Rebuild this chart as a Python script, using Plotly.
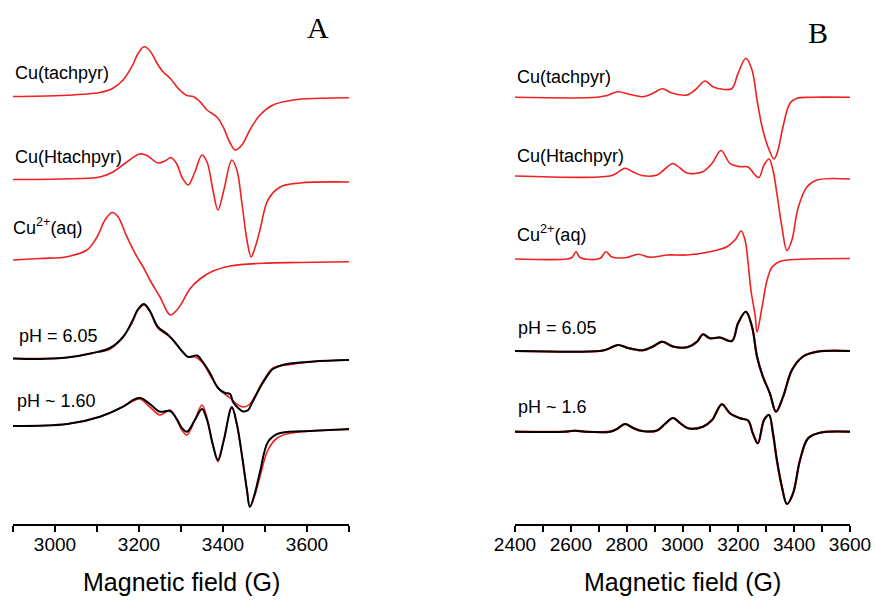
import plotly.graph_objects as go

# ---------------- Panel A (X-band, 2900-3700 G) ----------------
a_tach_field = [2900, 3012, 3107, 3138, 3162, 3183, 3198, 3212, 3226, 3243, 3257, 3274, 3290, 3302, 3314, 3329,
                3345, 3362, 3386, 3400, 3417, 3429, 3445, 3464, 3488, 3519, 3567, 3631, 3700]
a_tach_sig = [0, 1, 4, 8.2, 16.5, 29.8, 43.2, 49.8, 45.8, 33.2, 24.8, 18.2, 9.8, 4.5, 1, 0,
              -5.2, -13.5, -20.8, -30.2, -46.5, -53.5, -48.5, -33.5, -18.5, -8.5, -3.5, -1.8, -1.2]

a_htach_field = [2900, 3012, 3107, 3138, 3171, 3202, 3219, 3245, 3262, 3276, 3290, 3302, 3317, 3333, 3350, 3362,
                 3376, 3388, 3402, 3421, 3433, 3445, 3457, 3467, 3476, 3488, 3507, 3536, 3583, 3700]
a_htach_sig = [0, 0.5, 2.5, 7.5, 17.5, 25.5, 24, 16.5, 18.5, 22, 15.5, 2.5, -5.5, 7.5, 24.5, 17.5,
               -10.5, -30.5, -10.5, 19.5, 9.5, -23.5, -60.5, -77.5, -68.5, -50.5, -20.5, -7.5, -3.5, -2.5]

a_aq_field = [2900, 2965, 3029, 3076, 3100, 3119, 3136, 3150, 3171, 3195, 3210, 3226, 3250, 3274, 3288, 3302,
              3321, 3345, 3376, 3417, 3495, 3583, 3700]
a_aq_sig = [0, 1.5, 3.3, 10, 23, 40, 47.5, 43.3, 23.3, 3.3, -7, -20, -37, -55, -51, -43,
            -29, -19, -11, -6, -3.3, -2.5, -1.7]

a_ph6_fit_field = [2900, 3029, 3090, 3131, 3162, 3183, 3198, 3212, 3226, 3245, 3267, 3281, 3302, 3317, 3333,
                   3352, 3369, 3393, 3417, 3436, 3448, 3464, 3493, 3519, 3552, 3614, 3700]
a_ph6_fit_sig = [0, 1, 5.5, 9.5, 21.5, 35.5, 48.5, 53.5, 46.8, 30.5, 23.5, 18.5, 7.5, 1.5, 1.5,
                 -4.5, -16.5, -31.5, -39.5, -46.5, -48.5, -45.5, -24.5, -9.5, -6.5, -3.2, -1.5]

a_ph6_exp_field = [2900, 2964, 3029, 3090, 3131, 3162, 3183, 3198, 3212, 3226, 3245, 3267, 3281, 3302, 3317, 3338,
                   3352, 3369, 3388, 3405, 3417, 3424, 3436, 3448, 3460, 3469, 3493, 3512, 3519, 3552, 3614, 3700]
a_ph6_exp_sig = [0, -0.5, 1, 5.5, 10.5, 21.5, 36.5, 49.5, 54.5, 47.5, 31.5, 24.5, 18.5, 7.5, 1.5, 3,
                 -3.5, -14.5, -29.5, -34.5, -35.5, -43.5, -49.5, -53, -51.5, -44.5, -25.5, -13.5, -10.5, -5.5, -3, -1.5]

a_ph16_field = [2900, 3029, 3107, 3162, 3186, 3202, 3226, 3250, 3274, 3290, 3302, 3314, 3333, 3350, 3362, 3376,
                3388, 3402, 3421, 3433, 3445, 3457, 3464, 3476, 3488, 3507, 3529, 3552, 3607, 3700]
a_ph16_fit_sig = [0, 2, 9.3, 19.3, 25, 27, 19, 11, 16, 6, -4, -9, 6, 21, 8, -19,
                  -35.7, -14, 18, 1, -29, -64, -80.7, -69, -50.7, -24, -12, -8, -5, -3.5]
a_ph16_exp_sig = [0, 2, 9.3, 19.3, 26, 28.3, 22, 14.3, 15, 7, -2, -5.7, 6, 17, 6, -19,
                  -34, -14, 19, 2, -29, -64, -81, -67, -46, -16, -8, -6, -5, -3]

# ---------------- Panel B (2400-3600 G) ----------------
b_tach_field = [2400, 2694, 2730, 2769, 2812, 2858, 2894, 2927, 2962, 3016, 3045, 3081, 3109, 3145, 3177, 3199,
                3227, 3249, 3267, 3285, 3306, 3328, 3342, 3360, 3385, 3410, 3457, 3600]
b_tach_sig = [0, 0, 1.8, 5.6, 2.8, 0.6, 4, 8.6, 4.3, 2.3, 7.3, 16.3, 10.6, 8, 8.8, 24,
              39, 27.3, -2.7, -29.4, -49.4, -61.7, -52.7, -29.4, -6, -1, 0, 0]

b_htach_field = [2400, 2740, 2765, 2794, 2823, 2855, 2909, 2937, 2966, 2991, 3016, 3073, 3106, 3138, 3170, 3206,
                 3235, 3260, 3274, 3292, 3310, 3324, 3338, 3356, 3374, 3392, 3414, 3446, 3482, 3600]
b_htach_sig = [0, 0, 3, 7.7, 4, 0.5, 1, 7, 12.5, 8, 3, 4.3, 12.7, 25.5, 12.7, 9.3,
               9, 1, -1.5, 11, 17, 6, -17.3, -50.7, -74.5, -64, -32, -10.7, -4, -3]

b_aq_field = [2400, 2586, 2604, 2619, 2633, 2704, 2726, 2747, 2801, 2841, 2884, 2944, 3016, 3098, 3159, 3188,
              3210, 3224, 3235, 3245, 3260, 3267, 3285, 3303, 3321, 3349, 3421, 3600]
b_aq_sig = [0, 0, 1.5, 7.3, 1.5, 0.5, 7.3, 2, 1.5, 4.8, 1.7, 4, 4, 7.3, 12.3, 19,
            28, 19, -4, -31, -56, -73, -48, -21, -8, -2.5, -0.3, 0.5]

b_ph6_field = [2400, 2704, 2730, 2769, 2805, 2858, 2894, 2927, 2966, 3016, 3052, 3073, 3098, 3134, 3177, 3199,
               3227, 3249, 3267, 3288, 3313, 3335, 3360, 3392, 3431, 3482, 3600]
b_ph6_sig = [0, 0, 1.7, 6, 3, 0.7, 4.5, 9.3, 4.5, 3.7, 9.3, 16.7, 12.7, 13.5, 10, 27.7,
             39.3, 24.3, -5.7, -25.7, -42.3, -60.7, -46, -19, -5.7, -0.7, 0]

b_ph16_field = [2400, 2579, 2615, 2651, 2740, 2765, 2794, 2823, 2855, 2909, 2937, 2966, 2991, 3020, 3073, 3106,
                3141, 3170, 3206, 3235, 3252, 3270, 3292, 3310, 3324, 3338, 3356, 3374, 3396, 3421, 3450, 3492, 3600]
b_ph16_sig = [0, 0, 1, 0, 0, 2.7, 7.7, 3.7, 0.7, 1.2, 7.7, 13.7, 8.7, 3.4, 5, 11.7,
              27.4, 18.4, 13.4, 11.2, -1.6, -11.6, 11.7, 16.7, -1.6, -28.3, -55, -72.3, -61.6, -28.3, -6.6, -1, 0]

# vertical stacking offsets (display only)
a_offsets = {"tach": 427.5, "htach": 344.5, "aq": 264, "ph6": 165.5, "ph16": 98}
b_offsets = {"tach": 426.7, "htach": 348, "aq": 265, "ph6": 173, "ph16": 92.3}

RED = "#f02020"
BLACK = "#000000"
FONT = "Liberation Sans, Arial, sans-serif"

fig = go.Figure()


def add(xs, sig, off, color, width, axis):
    fig.add_trace(go.Scatter(
        x=xs, y=[v + off for v in sig], mode="lines",
        line=dict(color=color, width=width, shape="spline", smoothing=1.0),
        xaxis=axis, yaxis="y", showlegend=False, hoverinfo="skip"))


# Panel A
add(a_tach_field, a_tach_sig, a_offsets["tach"], RED, 1.6, "x")
add(a_htach_field, a_htach_sig, a_offsets["htach"], RED, 1.6, "x")
add(a_aq_field, a_aq_sig, a_offsets["aq"], RED, 1.6, "x")
add(a_ph6_fit_field, a_ph6_fit_sig, a_offsets["ph6"], RED, 1.6, "x")
add(a_ph6_exp_field, a_ph6_exp_sig, a_offsets["ph6"], BLACK, 2, "x")
add(a_ph16_field, a_ph16_fit_sig, a_offsets["ph16"], RED, 1.6, "x")
add(a_ph16_field, a_ph16_exp_sig, a_offsets["ph16"], BLACK, 2, "x")

# Panel B
add(b_tach_field, b_tach_sig, b_offsets["tach"], RED, 1.6, "x2")
add(b_htach_field, b_htach_sig, b_offsets["htach"], RED, 1.6, "x2")
add(b_aq_field, b_aq_sig, b_offsets["aq"], RED, 1.6, "x2")
add(b_ph6_field, b_ph6_sig, b_offsets["ph6"], RED, 2.2, "x2")
add(b_ph6_field, b_ph6_sig, b_offsets["ph6"], BLACK, 2, "x2")
add(b_ph16_field, b_ph16_sig, b_offsets["ph16"], RED, 2.2, "x2")
add(b_ph16_field, b_ph16_sig, b_offsets["ph16"], BLACK, 2, "x2")

W, H = 875, 600
axis_common = dict(
    showline=True, linecolor="black", linewidth=2, mirror=False,
    ticks="outside", ticklen=6, tickwidth=2, tickcolor="black",
    showgrid=False, zeroline=False, dtick=200, automargin=False,
    ticklabelstandoff=-4,
    tickfont=dict(family=FONT, size=19, color="black"),
    minor=dict(dtick=100, ticks="outside", ticklen=6, tickwidth=2, tickcolor="black", showgrid=False),
)

fig.update_layout(
    width=W, height=H, margin=dict(l=0, r=0, t=0, b=76, pad=0, autoexpand=False),
    paper_bgcolor="white", plot_bgcolor="white",
    xaxis=dict(domain=[13 / W, 349 / W], range=[2900, 3700], tick0=3000, anchor="y", **axis_common),
    xaxis2=dict(domain=[515 / W, 850 / W], range=[2400, 3600], tick0=2400, anchor="y", **axis_common),
    yaxis=dict(range=[0, 524], visible=False, fixedrange=True, automargin=False),
)
fig.layout.xaxis.minor.tick0 = 2900
fig.layout.xaxis2.minor.tick0 = 2400

label_font = dict(family=FONT, size=18, color="black")
labels = [
    # (x px, y px, text)
    (13, 73, "Cu(tachpyr)"),
    (13, 157, "Cu(Htachpyr)"),
    (11, 227, "Cu<sup>2+</sup>(aq)"),
    (17, 336, "pH = 6.05"),
    (15, 401, "pH ~ 1.60"),
    (515, 77, "Cu(tachpyr)"),
    (515, 156, "Cu(Htachpyr)"),
    (515, 233, "Cu<sup>2+</sup>(aq)"),
    (516, 328, "pH = 6.05"),
    (516, 407, "pH ~ 1.6"),
]
for xp, yp, t in labels:
    fig.add_annotation(x=xp / W, y=(524 - yp) / 524, xref="paper", yref="paper", text=t,
                       showarrow=False, xanchor="left", yanchor="middle", font=label_font)

for xp, yp, t in [(318, 27, "A"), (818, 33, "B")]:
    fig.add_annotation(x=xp / W, y=(524 - yp) / 524, xref="paper", yref="paper", text=t,
                       showarrow=False, xanchor="center", yanchor="middle",
                       font=dict(family="Liberation Serif, Times New Roman, serif", size=30, color="black"))

for xc in [(13 + 349) / 2, (515 + 850) / 2]:
    fig.add_annotation(x=xc / W, y=-(582 - 524) / 524, xref="paper", yref="paper",
                       text="Magnetic field (G)", showarrow=False, xanchor="center", yanchor="middle",
                       font=dict(family=FONT, size=25, color="black"))

fig.write_html("out.html")
